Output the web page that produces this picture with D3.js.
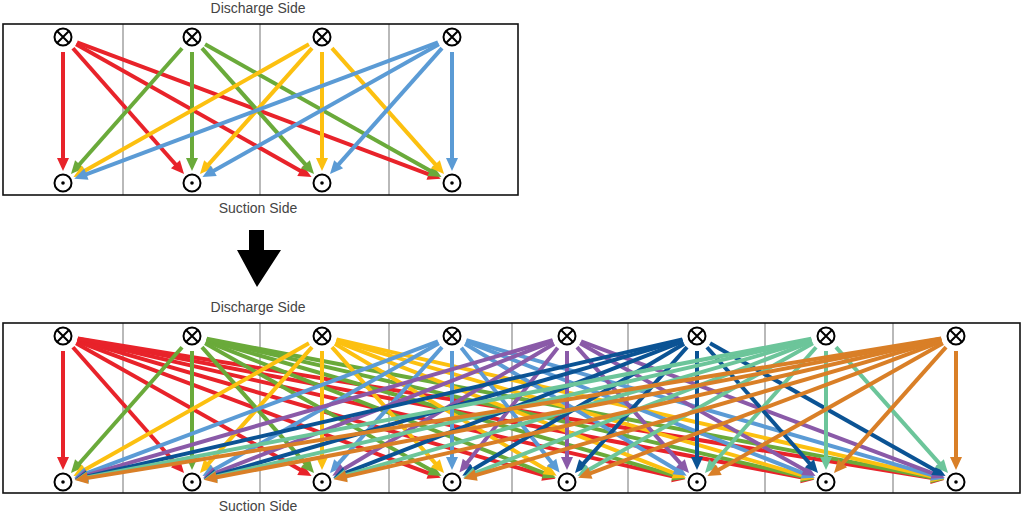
<!DOCTYPE html>
<html><head><meta charset="utf-8">
<script src="https://cdn.jsdelivr.net/npm/d3@7"></script>
<style>body{margin:0;background:#fff}svg{display:block}</style>
</head><body>
<svg id="c" width="1024" height="519"></svg>
<script>
const colorsTop = ["#e8232a","#6aaa3a","#fcc010","#5b9bd5"];
const colorsBottom = ["#e8232a","#6aaa3a","#fcc010","#5b9bd5","#8a5aa8","#0b5394","#6cc59a","#d97f27"];
const topPanel = {nodes:[0,1,2,3], nodeX:[63,192,322,452], dividers:[123,260,389], box:[3,24,518,195], yTop:37, yBot:183, labelTop:12, labelBot:212};
const botPanel = {nodes:[0,1,2,3,4,5,6,7], nodeX:[63,192,322,452,567,697,826,956], dividers:[123,260,389,512,628,765,893], box:[3,323,1020,493], yTop:336, yBot:482, labelTop:311, labelBot:510};

const svg = d3.select("#c");
function panel(p, colors){
  const g = svg.append("g");
  const [x0,y0,x1,y1]=p.box;
  g.selectAll("line.div").data(p.dividers).enter().append("line")
   .attr("x1",d=>d).attr("x2",d=>d).attr("y1",y0).attr("y2",y1)
   .attr("stroke","#a8a8a8").attr("stroke-width",1.6);
  g.append("rect").attr("x",x0).attr("y",y0).attr("width",x1-x0).attr("height",y1-y0)
   .attr("fill","none").attr("stroke","#111").attr("stroke-width",1.6);
  const pairs=[];
  p.nodes.forEach(s=>p.nodes.forEach(t=>pairs.push({s,t})));
  pairs.forEach(({s,t})=>{
    const sx=p.nodeX[s], sy=p.yTop, tx=p.nodeX[t], ty=p.yBot;
    const dx=tx-sx, dy=ty-sy, L=Math.hypot(dx,dy), ux=dx/L, uy=dy/L;
    const a=15, b=12, hl=13, hw=6;
    const px=sx+ux*a, py=sy+uy*a, ex=tx-ux*b, ey=ty-uy*b;
    const bx=ex-ux*hl, by=ey-uy*hl;
    g.append("line").attr("x1",px).attr("y1",py).attr("x2",bx+ux*1).attr("y2",by+uy*1)
     .attr("stroke",colors[s]).attr("stroke-width",4);
    g.append("path").attr("d",`M${ex},${ey}L${bx-uy*hw},${by+ux*hw}L${bx+uy*hw},${by-ux*hw}Z`)
     .attr("fill",colors[s]);
  });
  const r=8.5;
  p.nodeX.forEach(x=>{
    g.append("circle").attr("cx",x).attr("cy",p.yTop).attr("r",r).attr("fill","#fff").attr("stroke","#000").attr("stroke-width",2);
    const k=r*0.7;
    g.append("path").attr("d",`M${x-k},${p.yTop-k}L${x+k},${p.yTop+k}M${x+k},${p.yTop-k}L${x-k},${p.yTop+k}`).attr("stroke","#000").attr("stroke-width",2);
    g.append("circle").attr("cx",x).attr("cy",p.yBot).attr("r",r).attr("fill","#fff").attr("stroke","#000").attr("stroke-width",2);
    g.append("circle").attr("cx",x).attr("cy",p.yBot).attr("r",1.8).attr("fill","#000");
  });
  g.append("text").attr("x",258).attr("y",p.labelTop+1).attr("text-anchor","middle")
   .attr("font-family","Liberation Sans, Arial, sans-serif").attr("font-size",14).attr("fill","#444").text("Discharge Side");
  g.append("text").attr("x",258).attr("y",p.labelBot+1).attr("text-anchor","middle")
   .attr("font-family","Liberation Sans, Arial, sans-serif").attr("font-size",14).attr("fill","#444").text("Suction Side");
}
panel(topPanel,colorsTop);
panel(botPanel,colorsBottom);
svg.append("path").attr("d","M249,230L264,230L264,250L281,250L257,287L237,250L249,250Z").attr("fill","#000");
</script>
</body></html>
